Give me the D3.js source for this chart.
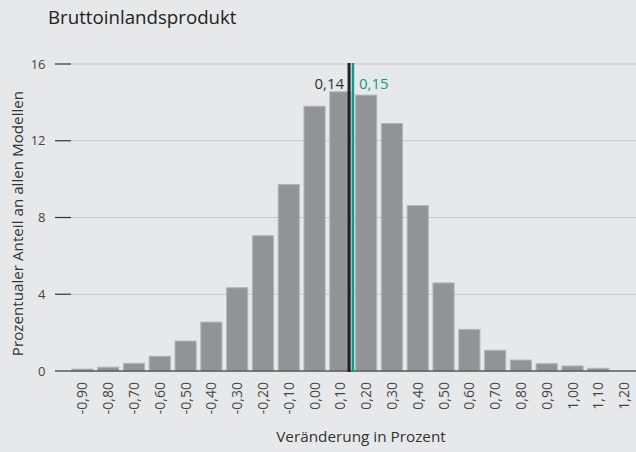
<!DOCTYPE html>
<html>
<head>
<meta charset="utf-8">
<script src="https://cdn.jsdelivr.net/npm/d3@7"></script>
<style>
  body { margin: 0; background: #e7e8ea; }
  svg { display: block; font-family: "Open Sans", sans-serif; }
</style>
</head>
<body>
<div id="chart"></div>
<script>
// Verteilung der Modellprognosen fuer das BIP
var categories = ["-0,90", "-0,80", "-0,70", "-0,60", "-0,50", "-0,40", "-0,30", "-0,20", "-0,10",
  "0,00", "0,10", "0,20", "0,30", "0,40", "0,50", "0,60", "0,70", "0,80", "0,90", "1,00", "1,10", "1,20"];
var binValues = [-0.9, -0.8, -0.7, -0.6, -0.5, -0.4, -0.3, -0.2, -0.1,
  0, 0.1, 0.2, 0.3, 0.4, 0.5, 0.6, 0.7, 0.8, 0.9, 1.0, 1.1, 1.2];
var shares = [0.1, 0.2, 0.4, 0.77, 1.56, 2.55, 4.34, 7.05, 9.72,
  13.8, 14.55, 14.38, 12.9, 8.62, 4.59, 2.17, 1.08, 0.57, 0.38, 0.26, 0.14, 0];
var yTicks = [0, 4, 8, 12, 16];
var markers = [
  { value: 0.14, label: "0,14", color: "#231f20", side: "left" },
  { value: 0.15, label: "0,15", color: "#12988a", side: "right" }
];

var width = 636, height = 452;

var svg = d3.select("#chart").append("svg")
  .attr("width", width)
  .attr("height", height);

svg.append("rect").attr("width", width).attr("height", height).attr("fill", "#e7e8ea");

var x = d3.scaleBand()
  .domain(categories)
  .range([69.5, 637])
  .paddingInner(0.18)
  .paddingOuter(0.09);

var y = d3.scaleLinear()
  .domain([0, 16])
  .range([371, 64]);

// position of a value on the category axis (bin centres)
var xv = d3.scaleLinear()
  .domain([binValues[0], binValues[binValues.length - 1]])
  .range([x(categories[0]) + x.bandwidth() / 2, x(categories[categories.length - 1]) + x.bandwidth() / 2]);

// gridlines + ticks
var grid = svg.append("g");
yTicks.forEach(function(t) {
  if (t > 0) {
    grid.append("line")
      .attr("x1", 71).attr("x2", width)
      .attr("y1", y(t)).attr("y2", y(t))
      .attr("stroke", "#c4c5c8").attr("stroke-width", 1.2);
    grid.append("line")
      .attr("x1", 55).attr("x2", 71)
      .attr("y1", y(t)).attr("y2", y(t))
      .attr("stroke", "#333").attr("stroke-width", 1.2);
  }
  grid.append("text")
    .attr("x", 45.5).attr("y", y(t))
    .attr("dy", "0.36em")
    .attr("text-anchor", "end")
    .attr("font-size", 13)
    .attr("fill", "#444")
    .text(t);
});

// bars
svg.append("g").selectAll("rect")
  .data(shares)
  .enter().append("rect")
    .attr("x", function(d, i) { return x(categories[i]); })
    .attr("y", function(d) { return y(d); })
    .attr("width", x.bandwidth())
    .attr("height", function(d) { return y(0) - y(d); })
    .attr("fill", "#929396")
    .attr("stroke", "#b4b5b8")
    .attr("stroke-width", 1);

// baseline
svg.append("line")
  .attr("x1", 55).attr("x2", width)
  .attr("y1", y(0)).attr("y2", y(0))
  .attr("stroke", "#5a5a5c").attr("stroke-width", 1.5);

// x tick labels
svg.append("g").selectAll("text")
  .data(categories)
  .enter().append("text")
    .attr("transform", function(d) {
      return "translate(" + (x(d) + x.bandwidth() / 2) + "," + 382 + ") rotate(-90)";
    })
    .attr("dy", "0.36em")
    .attr("text-anchor", "end")
    .attr("font-size", 14)
    .attr("fill", "#444")
    .text(function(d) { return d; });

// marker lines
markers.forEach(function(m) {
  var mx = xv(m.value) + (m.side == "left" ? -1.6 : -0.3);
  svg.append("line")
    .attr("x1", mx).attr("x2", mx)
    .attr("y1", y(16) - 1).attr("y2", y(0) + 1)
    .attr("stroke", m.color)
    .attr("stroke-width", m.side == "left" ? 3 : 2.5);
  svg.append("text")
    .attr("x", m.side == "left" ? mx - 5 : mx + 6)
    .attr("y", 88.5)
    .attr("text-anchor", m.side == "left" ? "end" : "start")
    .attr("font-size", 15)
    .attr("fill", m.side == "left" ? "#333" : m.color)
    .text(m.label);
});

// titles
svg.append("text")
  .attr("x", 48).attr("y", 23.5)
  .attr("font-size", 18.7)
  .attr("fill", "#222")
  .text("Bruttoinlandsprodukt");

svg.append("text")
  .attr("x", 361).attr("y", 441.5)
  .attr("text-anchor", "middle")
  .attr("font-size", 15.3)
  .attr("fill", "#333")
  .text("Veränderung in Prozent");

svg.append("text")
  .attr("transform", "translate(23.3,223.5) rotate(-90)")
  .attr("text-anchor", "middle")
  .attr("font-size", 15.2)
  .attr("fill", "#333")
  .text("Prozentualer Anteil an allen Modellen");
</script>
</body>
</html>
